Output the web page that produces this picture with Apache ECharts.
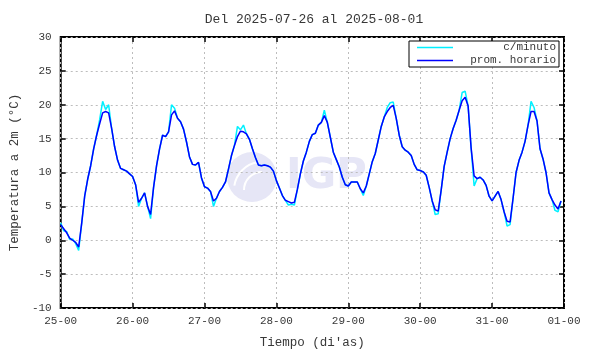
<!DOCTYPE html>
<html><head><meta charset="utf-8">
<script src="https://cdn.jsdelivr.net/npm/echarts@6/dist/echarts.min.js"></script>
<style>html,body{margin:0;padding:0;background:#fff}#c{width:590px;height:354px}</style>
</head><body><div id="c"></div>
<script>
// Hourly averages (hour 0 = 2025-07-25 00:00)
const hourly = [
 2.3,1.7,1.1,0.3,0.0,-0.3,-1.0,2.5,6.5,9.0,11.0,13.5,15.5,17.2,18.8,19.0,18.8,16.5,13.8,11.8,10.6,10.4,10.2,9.8,
 9.4,8.2,5.6,6.2,7.0,5.0,3.8,7.8,11.0,13.5,15.5,15.3,16.0,18.5,19.1,18.0,17.5,16.4,14.5,12.3,11.2,11.1,11.5,9.2,
 7.9,7.7,7.2,5.8,6.2,7.2,7.8,8.6,10.5,12.5,14.0,15.3,16.1,16.0,15.7,14.9,13.5,12.2,11.1,11.0,11.1,11.0,10.8,10.2,
 8.8,7.7,6.6,5.9,5.7,5.5,5.6,7.5,9.8,11.7,13.0,14.6,15.6,15.8,17.0,17.4,18.4,17.4,15.2,13.0,11.9,10.8,9.3,8.2,
 8.0,8.6,8.6,8.6,7.6,7.0,8.0,9.8,11.6,12.8,14.8,16.8,18.2,19.0,19.6,19.9,18.0,15.5,13.8,13.3,13.0,12.5,11.2,10.4,
 10.3,10.1,9.6,7.8,5.8,4.5,4.3,7.4,10.9,13.0,15.0,16.5,17.7,19.2,20.6,21.1,19.8,13.6,9.5,9.1,9.3,8.9,8.1,6.5,
 5.8,6.5,7.2,6.0,4.2,2.8,2.7,6.2,10.0,11.8,13.0,14.6,17.0,19.0,19.0,17.6,13.5,12.0,10.0,7.0,6.0,5.2,4.6,5.8
];
// Per-minute trace as read (shown only where it departs from the hourly line)
const perMinute = [
 2.6,1.4,1.3,0.1,0.2,-0.5,-1.5,2.5,6.5,9.0,11.0,13.5,15.5,17.8,20.5,19.3,20.0,16.5,13.8,11.8,10.6,10.4,10.2,9.8,
 9.4,8.2,5.0,6.2,7.0,5.0,3.2,7.8,11.0,13.5,15.5,15.3,16.0,20.0,19.5,18.0,17.5,16.4,14.5,12.3,11.2,11.1,11.5,9.2,
 7.9,7.7,7.2,5.0,6.2,7.2,7.8,8.6,10.5,12.5,14.0,16.8,16.3,17.0,15.7,14.9,13.5,12.2,11.1,11.0,11.1,11.0,10.8,10.2,
 8.8,7.7,6.6,5.9,5.2,5.3,5.2,7.5,9.8,11.7,13.0,14.6,15.6,15.8,17.0,17.4,19.2,17.4,15.2,13.0,11.9,10.8,9.3,8.2,
 8.0,8.6,8.6,8.6,7.6,6.6,8.0,9.8,11.6,12.8,14.8,16.8,18.2,19.6,20.3,20.4,18.0,15.5,13.8,13.3,13.0,12.5,11.2,10.4,
 10.3,10.1,9.6,7.8,5.8,3.8,3.9,7.4,10.9,13.0,15.0,16.5,17.7,19.2,21.8,22.0,19.8,13.6,8.0,9.1,9.3,8.9,8.1,6.5,
 5.8,6.5,7.2,6.0,4.2,2.1,2.3,6.2,10.0,11.8,13.0,14.6,17.0,20.5,19.6,17.6,13.5,12.0,10.0,7.0,6.0,4.4,4.2,5.8
];
const dayLabels = ['25-00','26-00','27-00','28-00','29-00','30-00','31-00','01-00'];
const seriesNames = ['c/minuto','prom. horario'];
const titleText = 'Del 2025-07-26 al 2025-08-01';
const xName = "Tiempo (di'as)";
const yName = 'Temperatura a 2m (°C)';

const F = 'Liberation Mono';
const txt = '#383838';
const toPairs = a => a.map((v,i)=>[i,v]);
const chart = echarts.init(document.getElementById('c'));
const gridLine = {show:true,lineStyle:{color:'#bdbdbd',type:[2,3],width:1}};
const tick = {show:true,inside:true,length:5,lineStyle:{color:'#000',width:1.5}};
chart.setOption({
  animation:false,
  backgroundColor:'#fff',
  title:{text:titleText,left:309,top:8,textAlign:'center',textStyle:{fontFamily:F,fontSize:13,fontWeight:'normal',color:txt}},
  grid:{left:54,right:26,top:37,bottom:41,show:true,borderColor:'#000',borderWidth:2,backgroundColor:'transparent'},
  legend:{left:409,top:41,orient:'vertical',itemGap:2,itemWidth:36,itemHeight:1.5,icon:'rect',
    borderColor:'#000',borderWidth:1,padding:[1,3,1,8],backgroundColor:'#fff',
    formatter:n=>'{a|'+n+'}',
    textStyle:{fontFamily:F,fontSize:11,color:txt,rich:{a:{width:98,align:'right',fontFamily:F,fontSize:11,color:txt}}},
    data:seriesNames},
  xAxis:[
    {type:'value',min:0,max:168,interval:24,
     axisLine:{show:false,onZero:false},axisTick:tick,
     axisLabel:{fontFamily:F,fontSize:11,color:txt,margin:8,formatter:v=>dayLabels[Math.round(v/24)]},
     splitLine:gridLine,
     name:xName,nameLocation:'middle',nameGap:28,nameTextStyle:{fontFamily:F,fontSize:12.5,color:txt}},
    {type:'value',position:'top',min:0,max:168,interval:24,
     axisLine:{show:false,onZero:false},axisTick:tick,
     axisLabel:{show:false},splitLine:{show:false}}
  ],
  yAxis:[
    {type:'value',min:-10,max:30,interval:5,
     axisLine:{show:false,onZero:false},axisTick:tick,
     axisLabel:{fontFamily:F,fontSize:11,color:txt,margin:9},
     splitLine:gridLine,
     name:yName,nameLocation:'middle',nameGap:37,nameTextStyle:{fontFamily:F,fontSize:12.5,color:txt}},
    {type:'value',position:'right',min:-10,max:30,interval:5,
     axisLine:{show:false,onZero:false},axisTick:tick,
     axisLabel:{show:false},splitLine:{show:false}}
  ],
  graphic:[
    {type:'group',z:-1,silent:true,children:[
      {type:'circle',shape:{cx:252,cy:177,r:25},style:{fill:'#e6e6f6'}},
      {type:'arc',shape:{cx:262,cy:190,r:18,startAngle:Math.PI*1.0,endAngle:Math.PI*1.5},style:{stroke:'#fff',lineWidth:2,fill:null}},
      {type:'arc',shape:{cx:262,cy:190,r:28,startAngle:Math.PI*1.05,endAngle:Math.PI*1.45},style:{stroke:'#fff',lineWidth:2,fill:null}},
      {type:'text',x:286,y:156,style:{text:'IGP',font:'bold 42px "DejaVu Sans"',fill:'#e6e6f6'}}
    ]}
  ],
  series:[
    {name:seriesNames[0],type:'line',data:toPairs(perMinute),symbol:'none',
     lineStyle:{color:'#00f0ff',width:1.5},itemStyle:{color:'#00f0ff'},z:2},
    {name:seriesNames[1],type:'line',data:toPairs(hourly),symbol:'none',
     lineStyle:{color:'#0000ff',width:1.5},itemStyle:{color:'#0000ff'},z:3}
  ]
});
</script></body></html>
